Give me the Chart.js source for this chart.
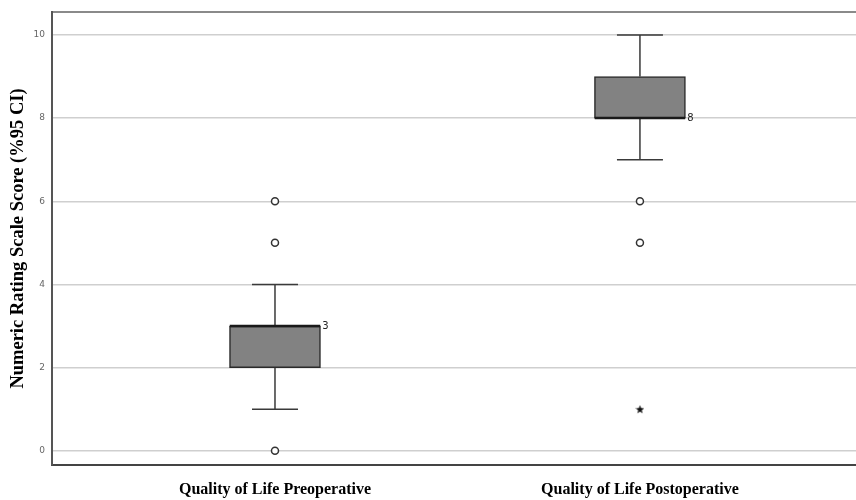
<!DOCTYPE html>
<html>
<head>
<meta charset="utf-8">
<script src="https://cdn.jsdelivr.net/npm/chart.js@4"></script>
<style>
  html, body { margin: 0; padding: 0; background: #fff; overflow: hidden; }
  canvas { display: block; }
</style>
</head>
<body>
<canvas id="qolChart" width="856" height="500"></canvas>
<script>
// categories and box plot values
const categories = ['Quality of Life Preoperative', 'Quality of Life Postoperative'];
const positions = [1, 2];
const mins = [1, 7];
const q1s = [2, 8];
const medians = [3, 8];
const q3s = [3, 9];
const maxs = [4, 10];
const outliers = [[0, 5, 6], [5, 6]];
const extremes = [[], [1]];
const caseLabels = ['3', '8'];
const yTicks = [0, 2, 4, 6, 8, 10];

const halfBox = 0.124;
const halfCap = 0.063;

// small filled star for extreme values
const star = document.createElement('canvas');
star.width = 9; star.height = 9;
(function () {
  const c = star.getContext('2d');
  c.fillStyle = '#111';
  c.beginPath();
  for (let i = 0; i < 10; i++) {
    const r = i % 2 === 0 ? 4.5 : 1.9;
    const a = -Math.PI / 2 + i * Math.PI / 5;
    const px = 4.5 + r * Math.cos(a), py = 4.8 + r * Math.sin(a);
    if (i === 0) c.moveTo(px, py); else c.lineTo(px, py);
  }
  c.closePath();
  c.fill();
})();

// whiskers + caps as broken line segments
const whiskerPts = [];
positions.forEach((p, i) => {
  whiskerPts.push({ x: p - halfCap, y: mins[i] }, { x: p + halfCap, y: mins[i] }, { x: p, y: null });
  whiskerPts.push({ x: p, y: mins[i] }, { x: p, y: q1s[i] }, { x: p, y: null });
  whiskerPts.push({ x: p, y: q3s[i] }, { x: p, y: maxs[i] }, { x: p, y: null });
  whiskerPts.push({ x: p - halfCap, y: maxs[i] }, { x: p + halfCap, y: maxs[i] }, { x: p, y: null });
});

const medianPts = [];
positions.forEach((p, i) => {
  medianPts.push({ x: p - halfBox, y: medians[i] }, { x: p + halfBox, y: medians[i] }, { x: p, y: null });
});

const outlierPts = [];
positions.forEach((p, i) => outliers[i].forEach(v => outlierPts.push({ x: p, y: v })));
const extremePts = [];
positions.forEach((p, i) => extremes[i].forEach(v => extremePts.push({ x: p, y: v })));

const caseLabelPlugin = {
  id: 'caseLabels',
  afterDatasetsDraw(chart) {
    const { ctx, scales } = chart;
    ctx.save();
    ctx.font = '10px "DejaVu Sans", sans-serif';
    ctx.fillStyle = '#222';
    ctx.textBaseline = 'middle';
    positions.forEach((p, i) => {
      const x = scales.x.getPixelForValue(p + halfBox) + 2;
      const y = scales.y.getPixelForValue(medians[i]);
      ctx.fillText(caseLabels[i], x, y);
    });
    ctx.restore();
  }
};

// no extra side padding for tick labels
function noPad(scale) {
  scale.paddingLeft = 0;
  scale.paddingRight = 0;
  scale.paddingTop = 0;
  scale.paddingBottom = 0;
}

const ctx = document.getElementById('qolChart').getContext('2d');
new Chart(ctx, {
  type: 'bar',
  data: {
    datasets: [
      {
        type: 'line',
        data: whiskerPts,
        borderColor: '#3a3a3a',
        borderWidth: 1.5,
        pointRadius: 0,
        spanGaps: false,
        order: 3
      },
      {
        type: 'bar',
        data: positions.map((p, i) => ({ x: p, y: [q1s[i], q3s[i]] })),
        backgroundColor: '#828282',
        borderColor: '#2a2a2a',
        borderWidth: 1.5,
        borderSkipped: false,
        barThickness: 91,
        order: 2
      },
      {
        type: 'line',
        data: medianPts,
        borderColor: '#1a1a1a',
        borderWidth: 2.5,
        pointRadius: 0,
        spanGaps: false,
        order: 1
      },
      {
        type: 'scatter',
        data: outlierPts,
        pointStyle: 'circle',
        pointRadius: 3.5,
        borderColor: '#333',
        borderWidth: 1.5,
        backgroundColor: '#fff',
        order: 0
      },
      {
        type: 'scatter',
        data: extremePts,
        pointStyle: star,
        order: 0
      }
    ]
  },
  options: {
    responsive: false,
    animation: false,
    layout: { padding: 0, autoPadding: false },
    plugins: {
      legend: { display: false },
      tooltip: { enabled: false }
    },
    scales: {
      x: {
        type: 'linear',
        min: 0.389,
        max: 2.592,
        offset: false,
        afterBuildTicks: (scale) => { scale.ticks = positions.map(v => ({ value: v })); },
        afterFit: (scale) => { scale.height = 35; noPad(scale); },
        grid: { display: false, drawTicks: false },
        border: { color: '#444', width: 2 },
        ticks: {
          autoSkip: false,
          maxRotation: 0,
          padding: 15,
          color: '#000',
          font: { family: '"Liberation Serif", "Times New Roman", serif', size: 16, weight: 'bold' },
          callback: (v) => categories[positions.indexOf(v)] || ''
        }
      },
      xTop: {
        type: 'linear',
        position: 'top',
        min: 0.389,
        max: 2.592,
        afterFit: (scale) => { scale.height = 12; noPad(scale); },
        grid: { display: false, drawTicks: false },
        ticks: { display: false },
        border: { color: '#8a8a8a', width: 2 }
      },
      y: {
        min: -0.34,
        max: 10.55,
        afterBuildTicks: (scale) => { scale.ticks = yTicks.map(v => ({ value: v })); },
        afterFit: (scale) => { scale.width = 52; noPad(scale); },
        grid: { color: '#cfcfcf', lineWidth: 1.5, drawTicks: false },
        border: { color: '#555', width: 2 },
        ticks: {
          padding: 7,
          color: '#666',
          font: { family: '"DejaVu Sans", sans-serif', size: 9 }
        },
        title: {
          display: true,
          text: 'Numeric Rating Scale Score (%95 CI)',
          color: '#000',
          padding: { top: 7, bottom: 0 },
          font: { family: '"Liberation Serif", "Times New Roman", serif', size: 18.5, weight: 'bold' }
        }
      }
    }
  },
  plugins: [caseLabelPlugin]
});
</script>
</body>
</html>
